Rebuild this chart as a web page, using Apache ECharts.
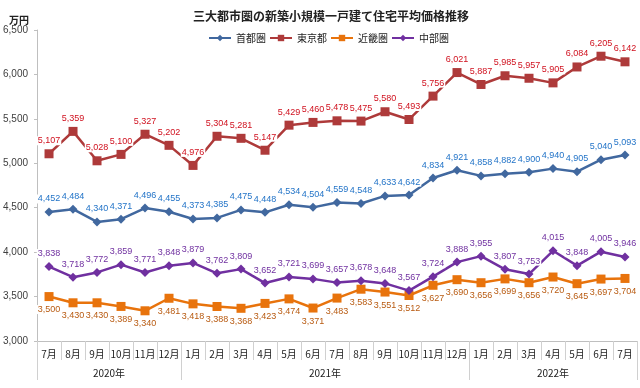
<!DOCTYPE html>
<html><head><meta charset="utf-8">
<script src="https://cdn.jsdelivr.net/npm/echarts@6/dist/echarts.min.js"></script>
<style>html,body{margin:0;padding:0;background:#fff}#c{width:640px;height:388px}</style>
</head><body><div id="c"></div>
<script>
const months = ['7月','8月','9月','10月','11月','12月','1月','2月','3月','4月','5月','6月','7月','8月','9月','10月','11月','12月','1月','2月','3月','4月','5月','6月','7月'];
const years = ['2020年','2021年','2022年'];
const yearCenters = [3, 12, 21.5];
const yearBounds = [0, 6, 18, 25];
const shutoken = [4452,4484,4340,4371,4496,4455,4373,4385,4475,4448,4534,4504,4559,4548,4633,4642,4834,4921,4858,4882,4900,4940,4905,5040,5093];
const tokyo = [5107,5359,5028,5100,5327,5202,4976,5304,5281,5147,5429,5460,5478,5475,5580,5493,5756,6021,5887,5985,5957,5905,6084,6205,6142];
const kinki = [3500,3430,3430,3389,3340,3481,3418,3388,3368,3423,3474,3371,3483,3583,3551,3512,3627,3690,3656,3699,3656,3720,3645,3697,3704];
const chubu = [3838,3718,3772,3859,3771,3848,3879,3762,3809,3652,3721,3699,3657,3678,3648,3567,3724,3888,3955,3807,3753,4015,3848,4005,3946];

const fmt = v => Number(v).toLocaleString('en-US');
const chart = echarts.init(document.getElementById('c'), null, {renderer:'canvas'});
function mk(name, data, color, labelColor, symbol, size, pos){
  return {
    name, type:'line', data, symbol, symbolSize:size,
    lineStyle:{color, width:2.5}, itemStyle:{color},
    label:{show:true, position:pos, distance:4, color:labelColor, fontSize:9,
      fontFamily:'Liberation Sans', backgroundColor:'#fff', padding:[0,1],
      formatter:p=>fmt(p.value)},
    xAxisIndex:0, yAxisIndex:0, animation:false
  };
}
chart.setOption({
  backgroundColor:'#fff',
  title:[
    {text:'三大都市圏の新築小規模一戸建て住宅平均価格推移', left:188, top:5,
     textStyle:{fontSize:12, fontWeight:'bold', color:'#222', fontFamily:'Noto Sans CJK JP'}},
    {text:'万円', left:4, top:10, textStyle:{fontSize:10, fontWeight:'bold', color:'#222', fontFamily:'Noto Sans CJK JP'}}
  ],
  legend:{top:28, left:203, itemWidth:22, itemHeight:8, itemGap:3,
    textStyle:{fontSize:10, color:'#222', fontFamily:'Noto Sans CJK JP'},
    data:['首都圏','東京都','近畿圏','中部圏']},
  grid:{left:37, right:3, top:30, bottom:47, containLabel:false},
  xAxis:[
    {type:'category', data:months, boundaryGap:true, position:'bottom',
     axisLine:{show:true, lineStyle:{color:'#bfbfbf'}},
     axisTick:{show:true, interval:0, length:19, lineStyle:{color:'#d0d0d0'}},
     axisLabel:{interval:0, margin:8, fontSize:10, color:'#222', fontFamily:'Noto Sans CJK JP'}},
    {type:'value', min:0, max:25, position:'bottom', offset:19,
     axisLine:{show:false}, splitLine:{show:false},
     axisTick:{show:true, customValues:yearBounds, length:20, lineStyle:{color:'#d0d0d0'}},
     axisLabel:{customValues:yearCenters, margin:8, fontSize:10, color:'#222', fontFamily:'Noto Sans CJK JP',
       formatter:v=>years[yearCenters.indexOf(v)] || ''}}
  ],
  yAxis:{type:'value', min:3000, max:6500, interval:500,
    splitLine:{show:false},
    axisLine:{show:true, lineStyle:{color:'#bfbfbf'}},
    axisTick:{show:true, length:3, lineStyle:{color:'#bfbfbf'}},
    axisLabel:{margin:9, fontSize:10, color:'#404040', fontFamily:'Liberation Sans', formatter:fmt}},
  series:[
    mk('首都圏', shutoken, '#41689f', '#2374c8', 'diamond', 9, 'top'),
    mk('東京都', tokyo, '#ae3a3a', '#d0101e', 'rect', 9, 'top'),
    mk('近畿圏', kinki, '#e8730c', '#b85a10', 'rect', 9, 'bottom'),
    mk('中部圏', chubu, '#7030a0', '#7030a0', 'diamond', 9, 'top')
  ]
});
</script></body></html>
